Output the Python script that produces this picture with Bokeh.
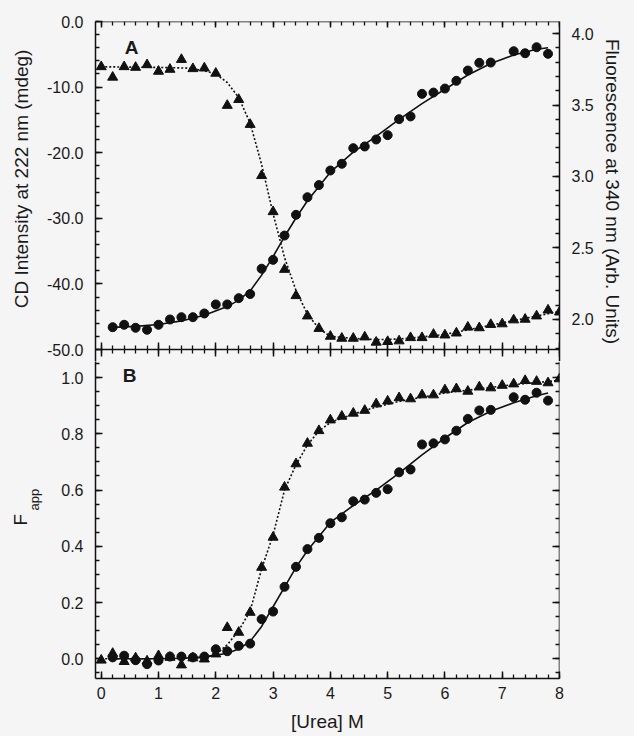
from bokeh.plotting import figure
from bokeh.models import (Range1d, LinearAxis, SingleIntervalTicker, FixedTicker,
                          NumeralTickFormatter, CustomJSTickFormatter, Label)
from bokeh.layouts import column
from bokeh.embed import file_html
from bokeh.resources import INLINE

# ---------------- data ----------------
urea_cd = [0.0, 0.2, 0.4, 0.6, 0.8, 1.0, 1.2, 1.4, 1.6, 1.8, 2.0, 2.2, 2.4, 2.6,
           2.8, 3.0, 3.2, 3.4, 3.6, 3.8, 4.0, 4.2, 4.4, 4.6, 4.8, 5.0, 5.2, 5.4,
           5.6, 5.8, 6.0, 6.2, 6.4, 6.6, 6.8, 7.0, 7.2, 7.4, 7.6, 7.8, 8.0]
cd_222 = [-6.9, -8.5, -6.9, -7.0, -6.6, -7.6, -7.3, -5.8, -7.2, -7.1, -7.9, -12.8,
          -11.9, -15.7, -23.5, -29.0, -37.8, -41.8, -44.9, -46.8, -48.0, -48.3,
          -48.3, -48.1, -48.9, -48.8, -48.7, -48.2, -48.2, -47.7, -47.8, -47.5,
          -46.6, -46.7, -46.2, -46.1, -45.5, -45.4, -44.9, -44.0, -44.3]
fapp_cd = [-0.005, 0.019, -0.010, 0.003, -0.008, 0.011, 0.005, -0.022, 0.003,
           -0.001, 0.017, 0.111, 0.094, 0.165, 0.325, 0.432, 0.610, 0.693, 0.766,
           0.811, 0.849, 0.862, 0.873, 0.883, 0.906, 0.916, 0.928, 0.924, 0.938,
           0.938, 0.956, 0.960, 0.951, 0.966, 0.963, 0.972, 0.977, 0.989, 0.986,
           0.981, 0.995]

urea_fl = [0.2, 0.4, 0.6, 0.8, 1.0, 1.2, 1.4, 1.6, 1.8, 2.0, 2.2, 2.4, 2.6, 2.8,
           3.0, 3.2, 3.4, 3.6, 3.8, 4.0, 4.2, 4.4, 4.6, 4.8, 5.0, 5.2, 5.4, 5.6,
           5.8, 6.0, 6.2, 6.4, 6.6, 6.8, 7.2, 7.4, 7.6, 7.8]
fl_340 = [1.946, 1.963, 1.942, 1.928, 1.963, 2.000, 2.016, 2.016, 2.042, 2.105,
          2.105, 2.149, 2.178, 2.355, 2.417, 2.587, 2.732, 2.855, 2.940, 3.042,
          3.089, 3.198, 3.210, 3.259, 3.289, 3.401, 3.420, 3.578, 3.587, 3.615,
          3.669, 3.741, 3.795, 3.797, 3.876, 3.862, 3.904, 3.858]
fapp_fl = [0.005, 0.011, -0.005, -0.019, -0.006, 0.008, 0.008, 0.005, 0.008,
           0.034, 0.027, 0.046, 0.054, 0.141, 0.168, 0.256, 0.327, 0.390, 0.430,
           0.482, 0.503, 0.560, 0.566, 0.590, 0.603, 0.663, 0.673, 0.762, 0.766,
           0.780, 0.811, 0.853, 0.883, 0.885, 0.930, 0.921, 0.946, 0.918]

# fitted curves
fit_x_cd = [0.0, 0.5, 1.0, 1.5, 1.8, 2.0, 2.2, 2.4, 2.6, 2.8, 3.0, 3.2, 3.4, 3.6,
            3.8, 4.0, 4.4, 4.8, 5.2, 5.6, 6.0, 6.4, 6.8, 7.2, 7.6, 8.0]
fit_cd = [-6.9, -6.95, -7.0, -7.1, -7.5, -8.0, -9.3, -11.6, -15.5, -21.8, -29.3,
          -36.0, -41.0, -44.6, -46.8, -48.0, -48.3, -48.5, -48.4, -48.1, -47.7,
          -47.0, -46.3, -45.6, -44.9, -44.2]
fit_x_fl = [0.2, 0.6, 1.0, 1.4, 1.8, 2.2, 2.4, 2.6, 2.8, 3.0, 3.2, 3.4, 3.6, 3.8,
            4.0, 4.4, 4.8, 5.2, 5.6, 6.0, 6.4, 6.8, 7.2, 7.6, 7.8]
fit_fl = [1.945, 1.952, 1.965, 1.990, 2.030, 2.090, 2.135, 2.200, 2.310, 2.440,
          2.580, 2.710, 2.830, 2.930, 3.030, 3.170, 3.280, 3.400, 3.510, 3.610,
          3.710, 3.790, 3.850, 3.890, 3.900]
fit_fapp_cd = [0.0, 0.0, 0.0, 0.002, 0.005, 0.015, 0.05, 0.10, 0.17, 0.32, 0.44,
               0.60, 0.69, 0.76, 0.81, 0.84, 0.87, 0.895, 0.915, 0.93, 0.945,
               0.955, 0.965, 0.975, 0.982, 0.99]
fit_fapp_fl = [0.0, 0.0, 0.0, 0.002, 0.006, 0.02, 0.035, 0.062, 0.115, 0.185,
               0.255, 0.325, 0.385, 0.435, 0.485, 0.545, 0.60, 0.66, 0.725, 0.785,
               0.84, 0.88, 0.91, 0.935, 0.945]

# axis ticks and labels
cd_ticks = [-50, -40, -30, -20, -10, 0]
fl_ticks = [2.0, 2.5, 3.0, 3.5, 4.0]
fapp_ticks = [0.0, 0.2, 0.4, 0.6, 0.8, 1.0]
x_label = "[Urea] M"
cd_label = "CD Intensity at 222 nm (mdeg)"
fl_label = "Fluorescence at 340 nm (Arb. Units)"
fapp_main, fapp_sub = "F", "app"

# ---------------- layout constants ----------------
BG = "#f5f5f5"
INK = "#111111"
TXT = "#1a1a1a"
FONT = "Liberation Sans"
W = 634
LEFT, RIGHT = 95, 75          # frame spans x 95..559
TOP = 21                      # frame top of panel A
PANEL_A = 328                 # px from 0.0 to -50.0
STRIP = 12                    # extra px of figure A below the middle line
PANEL_B = 317                 # px of figure B frame
BOTTOM_B = 58

cd_lo, cd_hi = -50.0, 0.0
fl_lo, fl_hi = 1.79, 4.084
cd_px = (cd_hi - cd_lo) / PANEL_A
fl_px = (fl_hi - fl_lo) / PANEL_A
fapp_lo, fapp_hi = -0.07, 1.057

blank = CustomJSTickFormatter(code="return ''")


def style_axis(ax, major_in=7, minor_in=4, major_out=0, minor_out=0):
    ax.axis_line_color = INK
    ax.axis_line_width = 1.5
    ax.major_tick_line_color = INK
    ax.major_tick_line_width = 1.5
    ax.minor_tick_line_color = INK
    ax.minor_tick_line_width = 1.3
    ax.major_tick_in = major_in
    ax.major_tick_out = major_out
    ax.minor_tick_in = minor_in
    ax.minor_tick_out = minor_out
    ax.major_label_text_font = FONT
    ax.major_label_text_color = TXT
    ax.major_label_text_font_size = "16px"
    ax.axis_label_text_font = FONT
    ax.axis_label_text_color = TXT
    ax.axis_label_text_font_style = "normal"
    ax.axis_label_text_font_size = "19px"


def base_fig(height, y_range, top, bottom):
    p = figure(width=W, height=height, x_range=Range1d(-0.1, 8.0), y_range=y_range,
               output_backend="svg", toolbar_location=None,
               x_axis_location=None, y_axis_location="left",
               min_border_left=LEFT, min_border_right=RIGHT,
               min_border_top=top, min_border_bottom=bottom)
    p.background_fill_color = BG
    p.border_fill_color = BG
    p.outline_line_color = None
    p.grid.visible = False
    return p


# ---------------- panel A ----------------
p1 = base_fig(TOP + PANEL_A + STRIP, Range1d(cd_lo - STRIP * cd_px, cd_hi), TOP, 0)
p1.extra_y_ranges = {"fl": Range1d(fl_lo - STRIP * fl_px, fl_hi)}

la = p1.yaxis[0]
la.ticker = FixedTicker(ticks=cd_ticks, minor_ticks=[float(v) for v in range(-50, 1, 2)])
la.formatter = NumeralTickFormatter(format="0.0")
style_axis(la)
la.major_label_standoff = 12

ra = LinearAxis(y_range_name="fl", axis_label=fl_label,
                ticker=FixedTicker(ticks=fl_ticks,
                                   minor_ticks=[round(1.8 + 0.1 * i, 1) for i in range(23)]),
                formatter=NumeralTickFormatter(format="0.0"))
style_axis(ra)
ra.major_label_standoff = 12
ra.axis_label_standoff = 5
p1.add_layout(ra, "right")

# top edge of panel A
ta = LinearAxis(ticker=SingleIntervalTicker(interval=1, num_minor_ticks=5),
                formatter=blank, fixed_location=cd_hi)
style_axis(ta, major_in=6, minor_in=4)
p1.add_layout(ta, "above")

# shared middle line (ticks crossing)
ma = LinearAxis(ticker=SingleIntervalTicker(interval=1, num_minor_ticks=5),
                formatter=blank, fixed_location=cd_lo)
style_axis(ma, major_in=7, minor_in=4, major_out=7, minor_out=4)
p1.add_layout(ma, "below")

p1.line(fit_x_cd, fit_cd, line_color=INK, line_width=1.6, line_dash="2 2")
p1.line(fit_x_fl, fit_fl, line_color=INK, line_width=1.6, y_range_name="fl")
p1.scatter(urea_cd, cd_222, marker="triangle", size=10, color=INK)
p1.scatter(urea_fl, fl_340, marker="circle", size=9, color=INK, y_range_name="fl")

p1.add_layout(Label(x=36, y=PANEL_A + STRIP - 26, x_units="screen", y_units="screen",
                    text="A", text_font=FONT, text_font_size="19px",
                    text_font_style="bold", text_color=TXT,
                    text_align="center", text_baseline="middle"))
# left y-axis title of panel A (side-panel label, centred on the panel)
p1.add_layout(Label(x=-1.39, y=-24.0, text=cd_label, angle=1.5708,
                    text_font=FONT, text_font_size="19px", text_color=TXT,
                    text_align="center", text_baseline="middle"), "left")

# ---------------- panel B ----------------
p2 = base_fig(PANEL_B + BOTTOM_B, Range1d(fapp_lo, fapp_hi), 0, BOTTOM_B)

lb = p2.yaxis[0]
lb.ticker = FixedTicker(ticks=fapp_ticks,
                        minor_ticks=[round(-0.05 + 0.05 * i, 2) for i in range(23)])
lb.formatter = NumeralTickFormatter(format="0.0")
style_axis(lb)
lb.major_label_standoff = 12

rb = LinearAxis(ticker=FixedTicker(ticks=fapp_ticks,
                                   minor_ticks=[round(-0.05 + 0.05 * i, 2) for i in range(23)]),
                formatter=blank, fixed_location=8.0)
style_axis(rb)
p2.add_layout(rb, "right")

bb = LinearAxis(ticker=SingleIntervalTicker(interval=1, num_minor_ticks=5),
                axis_label=x_label)
style_axis(bb, major_in=7, minor_in=4)
bb.major_label_standoff = 8
bb.axis_label_standoff = 9
p2.add_layout(bb, "below")

p2.line(fit_x_cd, fit_fapp_cd, line_color=INK, line_width=1.6, line_dash="2 2")
p2.line(fit_x_fl, fit_fapp_fl, line_color=INK, line_width=1.6)
p2.scatter(urea_cd, fapp_cd, marker="triangle", size=10, color=INK)
p2.scatter(urea_fl, fapp_fl, marker="circle", size=9, color=INK)

p2.add_layout(Label(x=34, y=303, x_units="screen", y_units="screen", text="B",
                    text_font=FONT, text_font_size="19px", text_font_style="bold",
                    text_color=TXT, text_align="center", text_baseline="middle"))
# y-axis title F_app, drawn as two texts in the left side panel
p2.add_layout(Label(x=-1.41, y=0.495, text=fapp_main, angle=1.5708,
                    text_font=FONT, text_font_size="19px", text_color=TXT,
                    text_align="center", text_baseline="middle"), "left")
p2.add_layout(Label(x=-1.16, y=0.566, text=fapp_sub, angle=1.5708,
                    text_font=FONT, text_font_size="13px", text_color=TXT,
                    text_align="center", text_baseline="middle"), "left")

layout = column(p1, p2, spacing=0)
layout.styles = {"background-color": BG}

open("out.html", "w").write(file_html(layout, INLINE))
